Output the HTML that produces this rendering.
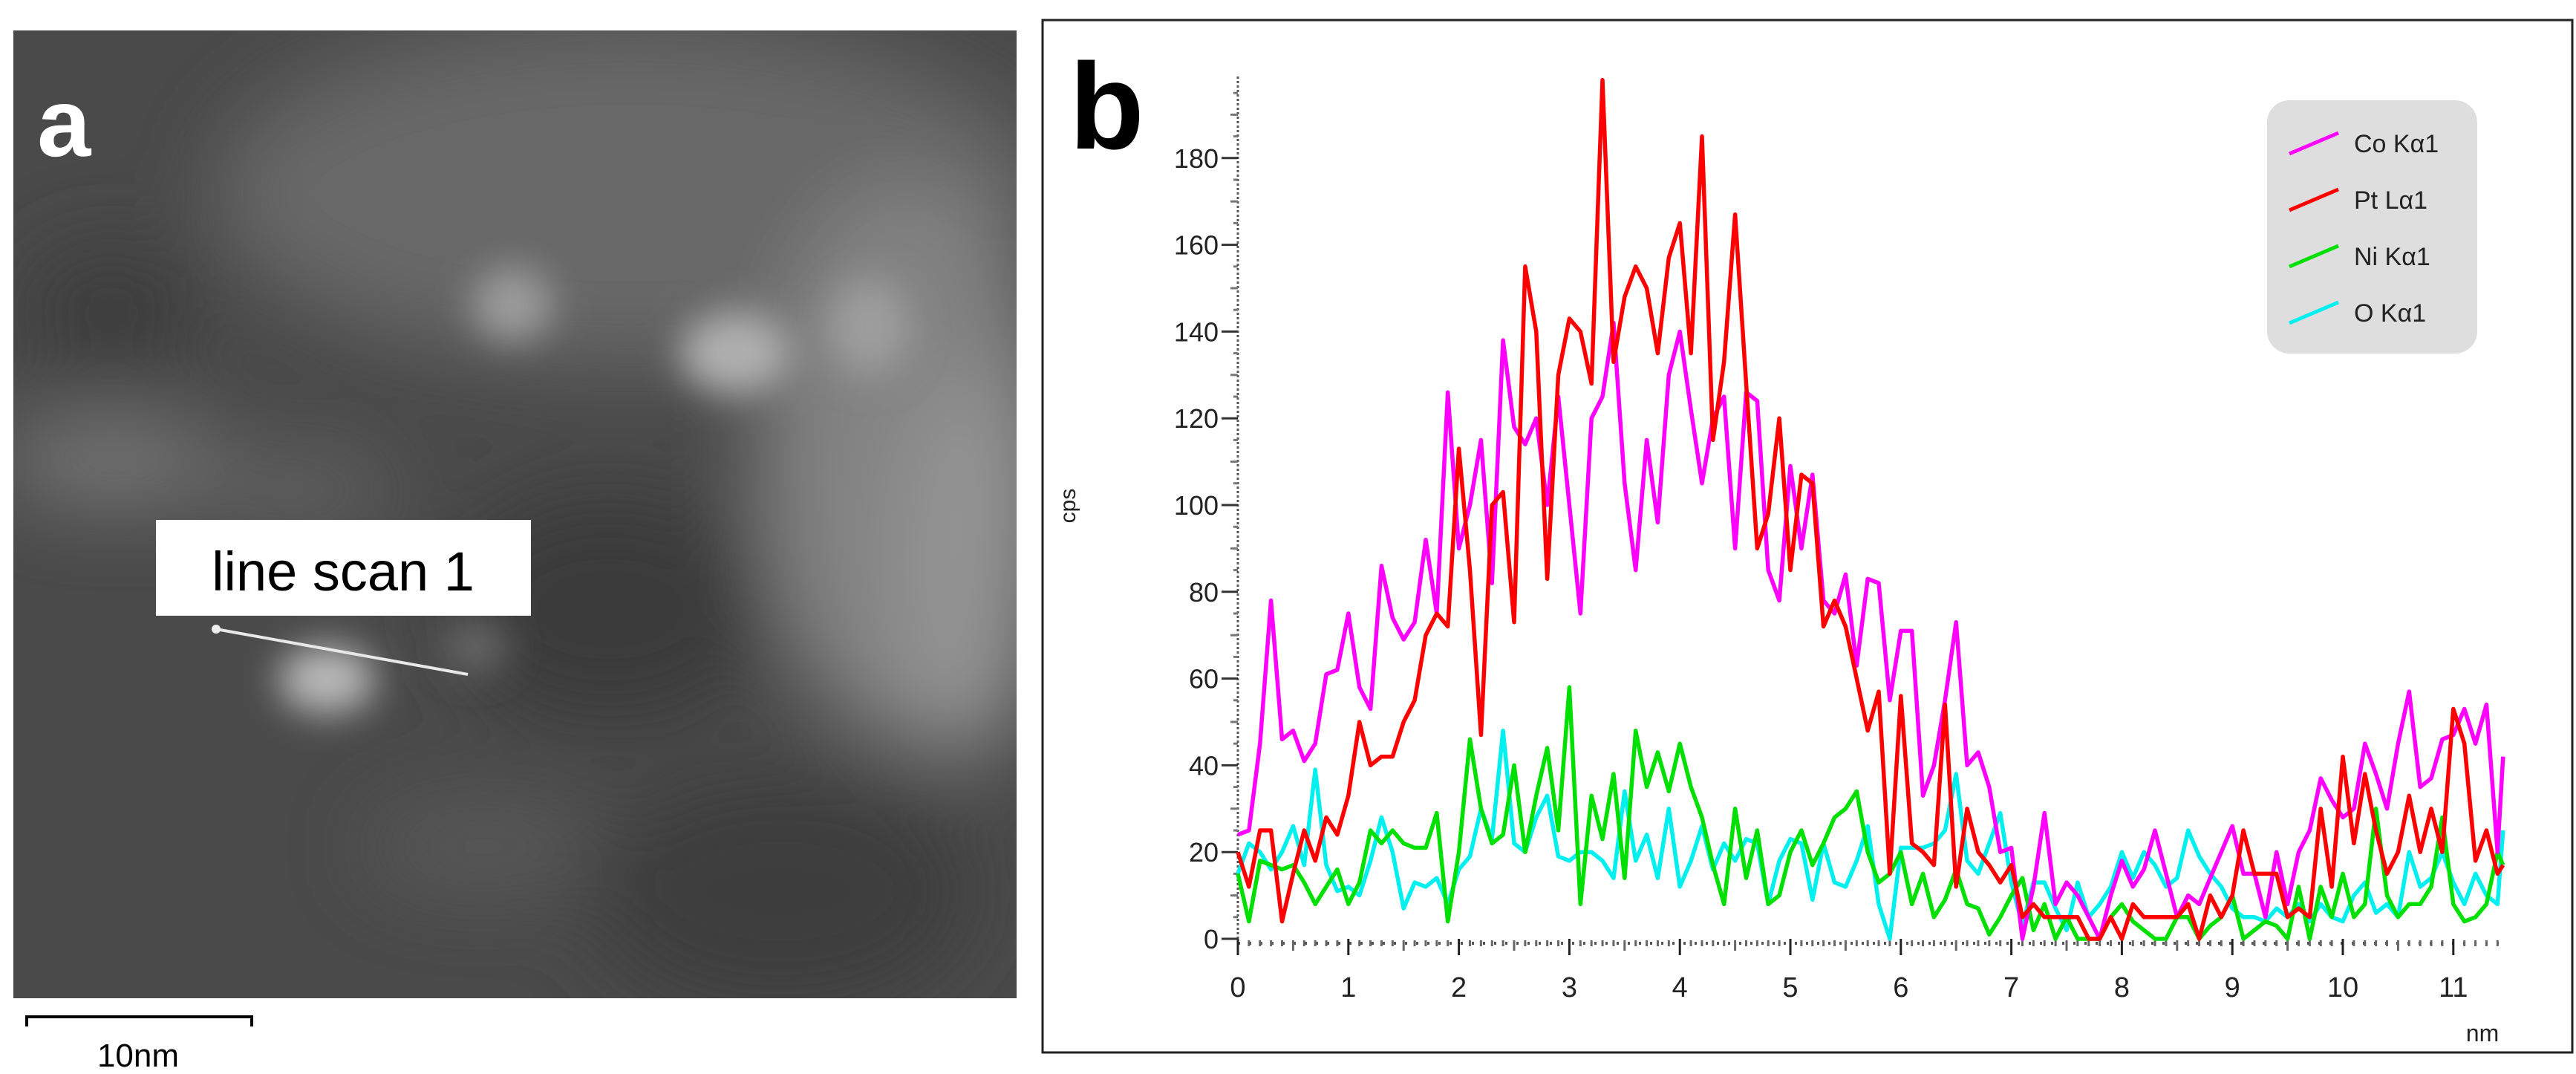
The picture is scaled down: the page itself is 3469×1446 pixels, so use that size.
<!DOCTYPE html>
<html><head><meta charset="utf-8"><style>
html,body{margin:0;padding:0;background:#fff;}
svg{display:block;}
text{font-family:"Liberation Sans",sans-serif;}
</style></head><body>
<svg id="fig" width="3469" height="1446" viewBox="0 0 3469 1446" xmlns="http://www.w3.org/2000/svg">
<defs>
<filter id="blur" x="-50%" y="-50%" width="200%" height="200%"><feGaussianBlur stdDeviation="55"/></filter>
<filter id="blur2" x="-50%" y="-50%" width="200%" height="200%"><feGaussianBlur stdDeviation="25"/></filter>
<clipPath id="imgclip"><rect x="18" y="41" width="1351" height="1303"/></clipPath>
</defs>
<g>
<g clip-path="url(#imgclip)">
<rect x="18" y="41" width="1351" height="1303" fill="#4a4a4a"/>
<g filter="url(#blur)">
<ellipse cx="850" cy="260" rx="560" ry="230" fill="#686868"/>
<ellipse cx="1220" cy="620" rx="200" ry="380" fill="#828282"/>
<ellipse cx="1300" cy="760" rx="100" ry="260" fill="#939393"/>
<ellipse cx="150" cy="620" rx="150" ry="60" fill="#767676"/>
<ellipse cx="400" cy="660" rx="130" ry="50" fill="#626262"/>
<ellipse cx="650" cy="1140" rx="160" ry="60" fill="#585858"/>
<ellipse cx="150" cy="420" rx="120" ry="90" fill="#3e3e3e"/>
<ellipse cx="820" cy="820" rx="220" ry="160" fill="#3a3a3a"/>
<ellipse cx="1050" cy="1200" rx="260" ry="160" fill="#3e3e3e"/>
</g>
<g filter="url(#blur2)">
<ellipse cx="690" cy="410" rx="55" ry="50" fill="#9c9c9c"/>
<ellipse cx="990" cy="475" rx="75" ry="55" fill="#b0b0b0"/>
<ellipse cx="1170" cy="440" rx="55" ry="65" fill="#9e9e9e"/>
<ellipse cx="440" cy="915" rx="65" ry="45" fill="#bcbcbc"/>
<ellipse cx="640" cy="870" rx="45" ry="35" fill="#686868"/>
</g>
</g>
<text x="50" y="210" font-size="130" font-weight="bold" fill="#fff">a</text>
<rect x="210" y="700" width="505" height="129" fill="#fff"/>
<text x="462" y="795" font-size="74" text-anchor="middle" fill="#000">line scan 1</text>
<line x1="291" y1="847" x2="630" y2="908" stroke="#e8e8e8" stroke-width="4"/>
<circle cx="291" cy="847" r="6" fill="#eee"/>
<path d="M36 1382 V1369 H339 V1382" fill="none" stroke="#000" stroke-width="4"/>
<text x="186" y="1436" font-size="44" text-anchor="middle" fill="#000">10nm</text>
</g>
<g>
<rect x="1404" y="27" width="2060" height="1390" fill="#fff" stroke="#222" stroke-width="3"/>
<text x="1440" y="200" font-size="165" font-weight="bold" fill="#000">b</text>
<text transform="translate(1448,681) rotate(-90)" font-size="30" text-anchor="middle" fill="#222">cps</text>
<text x="3343" y="1402" font-size="32" text-anchor="middle" fill="#222">nm</text>
<g id="axes"></g>
<g id="series"></g>
<g>
<rect x="3053" y="135" width="283" height="341" rx="30" fill="#dedede"/>
<g id="legend-items"></g>
</g>
</g>
</svg>
<script>
const xTicks = [0,1,2,3,4,5,6,7,8,9,10,11];
const yTicks = [0,20,40,60,80,100,120,140,160,180];
const seriesNames = ["Co Kα1","Pt Lα1","Ni Kα1","O Kα1"];
const xStep = 0.1;
const coValues = [24,25,45,78,46,48,41,45,61,62,75,58,53,86,74,69,73,92,75,126,90,100,115,82,138,118,114,120,100,125,100,75,120,125,142,105,85,115,96,130,140,122,105,120,125,90,126,124,85,78,109,90,107,78,75,84,63,83,82,55,71,71,33,40,55,73,40,43,35,20,21,0,12,29,8,13,10,5,0,10,18,12,16,25,15,5,10,8,14,20,26,15,15,5,20,8,20,25,37,32,28,30,45,38,30,45,57,35,37,46,47,53,45,54,20,42];
const ptValues = [20,12,25,25,4,15,25,18,28,24,33,50,40,42,42,50,55,70,75,72,113,85,47,100,103,73,155,140,83,130,143,140,128,198,133,148,155,150,135,157,165,135,185,115,133,167,128,90,98,120,85,107,105,72,78,72,60,48,57,15,56,22,20,17,54,12,30,20,17,13,17,5,8,5,5,5,5,0,0,5,0,8,5,5,5,5,8,0,10,5,10,25,15,15,15,5,7,5,30,12,42,22,38,25,15,20,33,20,30,20,53,45,18,25,15,17];
const niValues = [15,4,18,17,16,17,13,8,12,16,8,13,25,22,25,22,21,21,29,4,20,46,30,22,24,40,20,33,44,25,58,8,33,23,38,14,48,35,43,34,45,35,28,17,8,30,14,25,8,10,20,25,17,22,28,30,34,20,13,15,20,8,15,5,9,16,8,7,1,5,10,14,2,8,0,5,0,0,0,5,8,4,2,0,0,5,5,0,3,5,10,0,2,4,3,0,12,0,12,5,15,5,8,30,10,5,8,8,12,28,8,4,5,8,20,17];
const oValues = [15,22,20,16,20,26,17,39,17,11,12,10,18,28,20,7,13,12,14,8,16,19,30,23,48,22,20,28,33,19,18,20,20,18,14,34,18,24,14,30,12,18,26,16,22,18,23,22,8,18,23,22,9,22,13,12,18,26,8,0,21,21,21,22,25,38,18,15,22,29,13,3,13,13,7,2,13,5,8,12,20,14,20,17,12,14,25,19,15,12,7,5,5,4,7,5,8,4,8,5,4,10,13,6,8,5,20,12,14,20,13,8,15,10,8,25];
const seriesColors = ["#ff00ff","#ff0000","#00e000","#00f0f0"];

const NS="http://www.w3.org/2000/svg";
const X0=1667, XPER=148.8, Y0=1264, YPER=5.84;
function xs(v){return X0+v*XPER;}
function ys(v){return Y0-v*YPER;}
function mk(tag,attrs,parent){const e=document.createElementNS(NS,tag);for(const k in attrs)e.setAttribute(k,attrs[k]);parent.appendChild(e);return e;}
const axes=document.getElementById('axes');
let yl=mk('line',{x1:X0,y1:Y0,x2:X0,y2:ys(199),stroke:'#555','stroke-width':3,'stroke-dasharray':'3 3'},axes);


let xl=mk('line',{x1:X0,y1:Y0+6,x2:xs(11.45),y2:Y0+6,stroke:'#555','stroke-width':4,'stroke-dasharray':'3 12'},axes);


for(let m=0;m<=114;m++){
  if(m%10===0)continue;
  const t=mk('line',{x1:xs(m/10),y1:Y0+2,x2:xs(m/10),y2:Y0+(m%5===0?16:10),stroke:'#666','stroke-width':3},axes);
  
  
}
xTicks.forEach(v=>{
  const t=mk('line',{x1:xs(v),y1:Y0,x2:xs(v),y2:Y0+22,stroke:'#222','stroke-width':3},axes);
  
  
  const l=mk('text',{x:xs(v),y:Y0+78,'font-size':38,'text-anchor':'middle',fill:'#222'},axes);
  l.textContent=v;
  
  
});
for(let m=0;m<=198;m+=5){
  if(m%20===0)continue;
  const t=mk('line',{x1:X0-(m%10===0?10:6),y1:ys(m),x2:X0,y2:ys(m),stroke:'#777','stroke-width':3},axes);
  
  
}
yTicks.forEach(v=>{
  const t=mk('line',{x1:X0-22,y1:ys(v),x2:X0,y2:ys(v),stroke:'#333','stroke-width':3},axes);
  
  
  const l=mk('text',{x:X0-26,y:ys(v)+13,'font-size':36,'text-anchor':'end',fill:'#222'},axes);
  l.textContent=v;
  
  
});
const allSeries=[coValues,ptValues,niValues,oValues];
const sIds=['co-ka1-line','pt-la1-line','ni-ka1-line','o-ka1-line'];
const sg=document.getElementById('series');
[3,2,0,1].forEach(i=>{
  const vals=allSeries[i];
  const pts=vals.map((v,k)=>xs(Math.min(k*xStep,11.45)).toFixed(1)+','+ys(v).toFixed(1)).join(' ');
  const p=mk('polyline',{points:pts,fill:'none',stroke:seriesColors[i],'stroke-width':5.5,'stroke-linejoin':'round'},sg);
  
  
});
const lg=document.getElementById('legend-items');
seriesNames.forEach((n,i)=>{
  const cy=193+i*76;
  const ln=mk('line',{x1:3083,y1:cy+14,x2:3149,y2:cy-14,stroke:seriesColors[i],'stroke-width':5},lg);
  
  
  const t=mk('text',{x:3170,y:cy+12,'font-size':34,fill:'#222'},lg);
  t.textContent=n;
  
  
});
</script>
</body></html>
